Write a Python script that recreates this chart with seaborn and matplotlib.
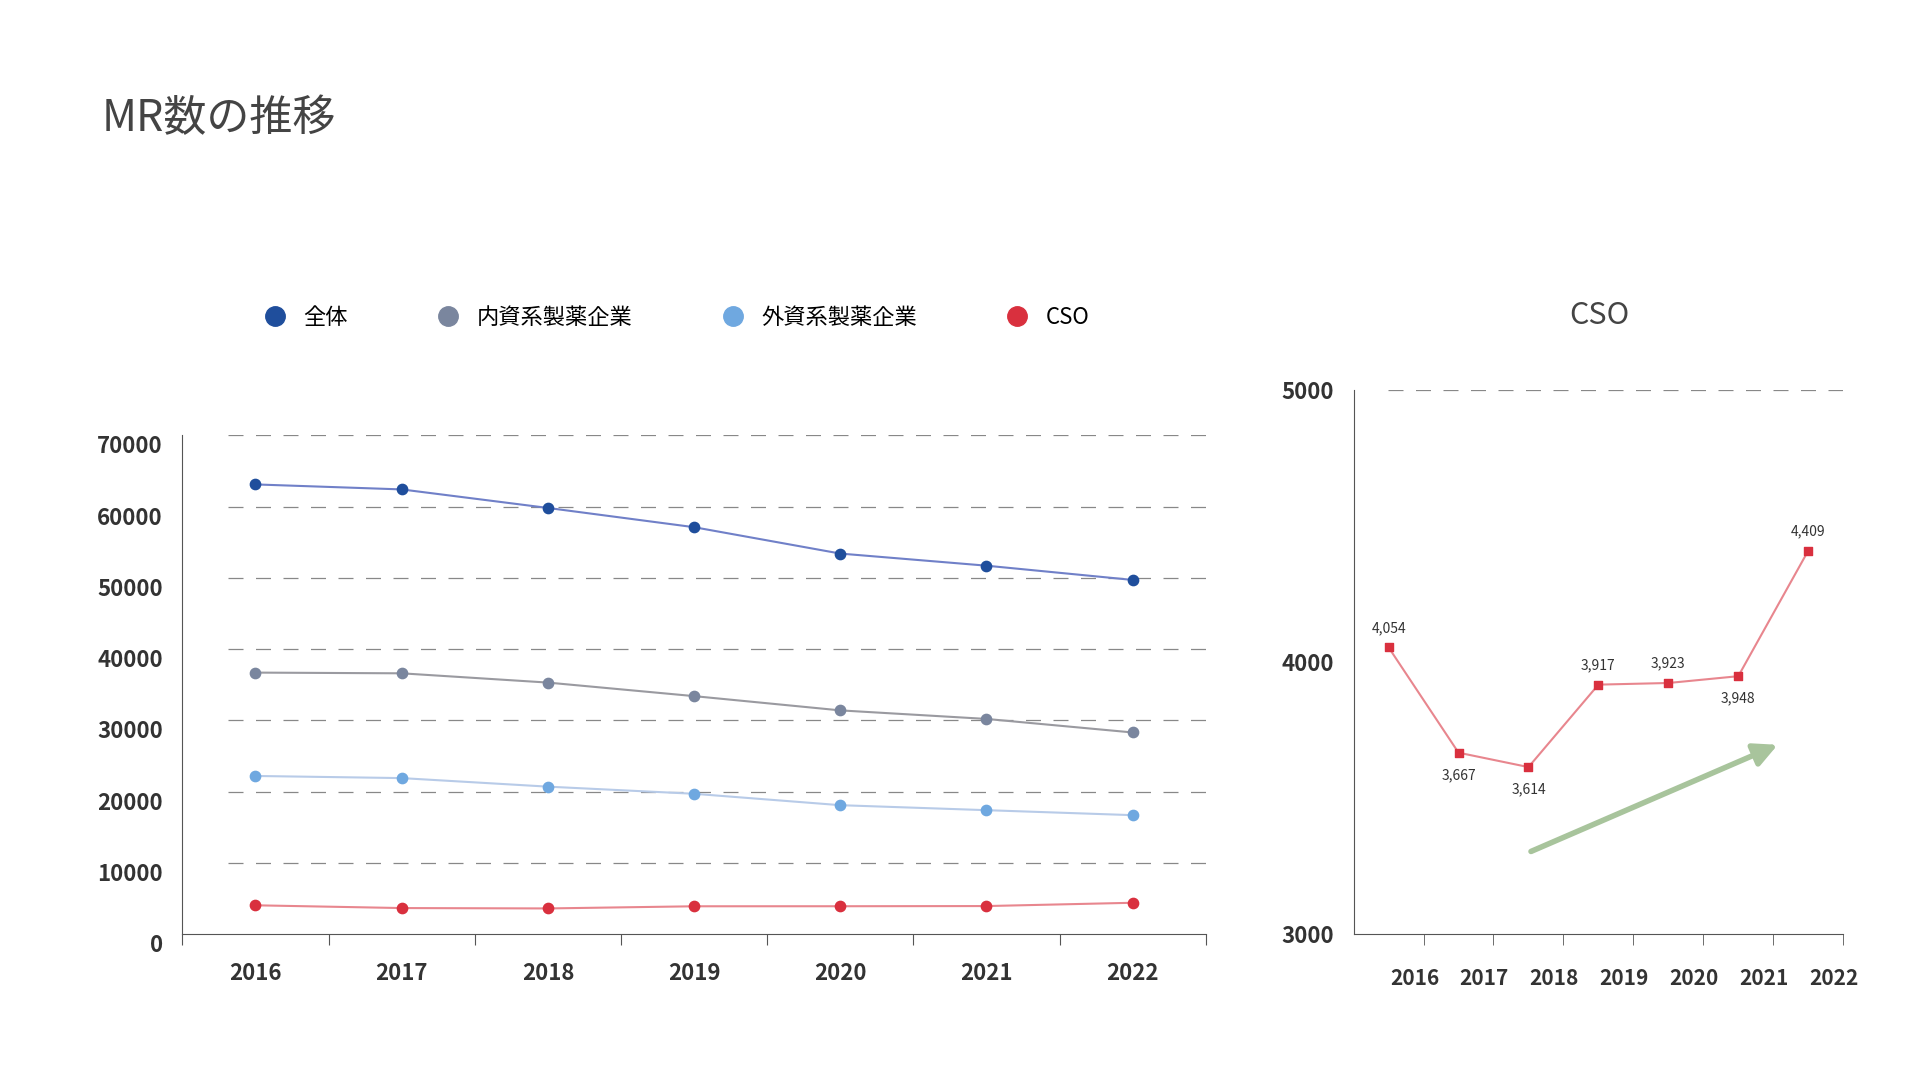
import numpy as np
import pandas as pd
import matplotlib.pyplot as plt
import seaborn as sns
from matplotlib.lines import Line2D

plt.rcParams["font.family"] = "Noto Sans CJK JP"

years = ["2016", "2017", "2018", "2019", "2020", "2021", "2022"]
total = [63100, 62400, 59800, 57100, 53400, 51700, 49700]
domestic = [36700, 36600, 35300, 33400, 31400, 30200, 28300]
foreign = [22200, 21900, 20700, 19700, 18100, 17400, 16700]
cso = [4054, 3667, 3614, 3917, 3923, 3948, 4409]

series = ["全体", "内資系製薬企業", "外資系製薬企業", "CSO"]
marker_colors = ["#1f4e9c", "#7a869e", "#6fa8e0", "#d9303e"]
line_colors = ["#7080c8", "#9a9aa0", "#b8cbe8", "#e8868e"]

rows = []
for name, vals in zip(series, [total, domestic, foreign, cso]):
    for i, v in enumerate(vals):
        rows.append({"series": name, "x": i, "value": v})
df = pd.DataFrame(rows)

fig = plt.figure(figsize=(19.2, 10.8), dpi=100)
fig.text(0.053, 0.89, "MR数の推移", fontsize=31, color="#444444", va="center")

grid_kw = dict(color="#888888", linestyle=(0, (12, 10)), linewidth=0.9)

# main chart
ax = fig.add_axes([0.095, 0.135, 0.533, 0.462])
for name, mc, lc in zip(series, marker_colors, line_colors):
    d = df[df["series"] == name]
    sns.lineplot(data=d, x="x", y="value", ax=ax, color=lc, linewidth=1.5)
    ax.scatter(d["x"], d["value"], color=mc, s=55, zorder=3)
ax.set_xlim(-0.5, 6.5)
ax.set_ylim(0, 70000)
ax.set_yticks(range(0, 70001, 10000))
ax.set_yticklabels([str(v) for v in range(0, 70001, 10000)])
for y in range(10000, 70001, 10000):
    ax.axhline(y, xmin=0.045, **grid_kw, zorder=0)
ax.set_xticks(np.arange(-0.5, 7, 1))
ax.set_xticklabels([])
ax.set_xticks(range(7), minor=True)
ax.set_xticklabels(years, minor=True)
ax.tick_params(axis="x", which="major", length=8, color="#555555")
ax.tick_params(axis="x", which="minor", length=0, pad=20, labelsize=16)
ax.tick_params(axis="y", length=0, pad=14, labelsize=16)
for lab in ax.get_xticklabels(minor=True) + ax.get_yticklabels():
    lab.set_fontweight("bold")
    lab.set_color("#333333")
    if lab in ax.get_yticklabels():
        lab.set_va("top")
ax.spines[["top", "right"]].set_visible(False)
for s in ["left", "bottom"]:
    ax.spines[s].set_color("#555555")
ax.set_xlabel("")
ax.set_ylabel("")

handles = [Line2D([], [], marker="o", linestyle="", color=c, markersize=14) for c in marker_colors]
fig.legend(handles, series, loc="center left", bbox_to_anchor=(0.121, 0.706), ncol=4,
           frameon=False, fontsize=16, columnspacing=3.5, handletextpad=0.3)

# CSO chart
ax2 = fig.add_axes([0.705, 0.135, 0.255, 0.504])
d = df[df["series"] == "CSO"]
sns.lineplot(data=d, x="x", y="value", ax=ax2, color=line_colors[3], linewidth=1.5)
ax2.scatter(d["x"], d["value"], color=marker_colors[3], marker="s", s=28, zorder=3)
for i, v in enumerate(cso):
    off = 14 if i in (0, 3, 4, 6) else -16
    ax2.annotate(f"{v:,}", (i, v), xytext=(0, off), textcoords="offset points",
                 ha="center", va="center", fontsize=10, color="#333333")
ax2.set_xlim(-0.5, 6.5)
ax2.set_ylim(3000, 5000)
ax2.set_yticks([3000, 4000, 5000])
ax2.axhline(5000, xmin=0.07, **grid_kw)
ax2.set_xticks(np.arange(0.5, 7, 1), minor=True)
ax2.set_xticks(np.arange(0.37, 7, 1))
ax2.set_xticklabels(years)
ax2.tick_params(axis="x", which="minor", length=8, color="#555555")
ax2.tick_params(axis="x", which="major", length=0, pad=24, labelsize=15)
ax2.tick_params(axis="y", length=0, pad=14, labelsize=16)
for lab in ax2.get_xticklabels() + ax2.get_yticklabels():
    lab.set_fontweight("bold")
    lab.set_color("#333333")
ax2.spines[["top", "right"]].set_visible(False)
for s in ["left", "bottom"]:
    ax2.spines[s].set_color("#555555")
ax2.set_xlabel("")
ax2.set_ylabel("")
ax2.annotate("", xy=(5.6, 3700), xytext=(2.0, 3300),
             arrowprops=dict(arrowstyle="-|>,head_length=1.4,head_width=0.7",
                             color="#a8c49c", lw=4))
fig.text(0.833, 0.708, "CSO", fontsize=22, color="#444444", ha="center", va="center")

fig.savefig("out.png", dpi=100)
